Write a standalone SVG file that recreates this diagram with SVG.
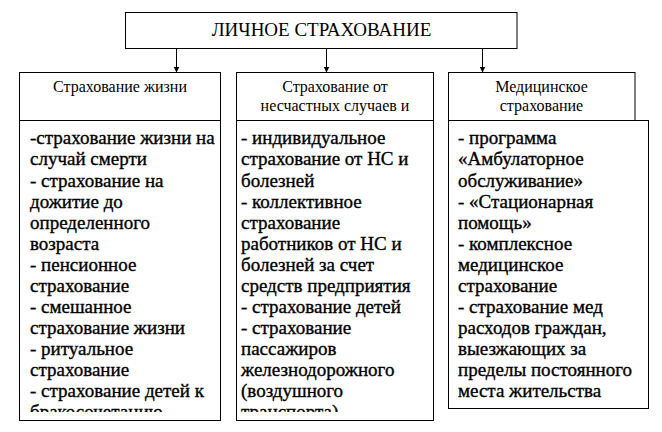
<svg xmlns="http://www.w3.org/2000/svg" width="662" height="432" viewBox="0 0 662 432">
  <defs>
    <style>
      .box { fill: #ffffff; stroke: #000000; stroke-width: 1; }
      .title { font-family: 'Liberation Serif', 'DejaVu Serif', serif; font-size: 19px; fill: #000; text-anchor: middle; }
      .head { font-family: 'Liberation Serif', 'DejaVu Serif', serif; font-size: 16px; fill: #000; text-anchor: middle; }
      .body { font-family: 'Liberation Serif', 'DejaVu Serif', serif; font-size: 19px; fill: #000; stroke: #000; stroke-width: 0.35; }
      .conn { stroke: #000; stroke-width: 1; fill: none; }
    </style>
    <marker id="arrow" viewBox="0 0 6 6" refX="6" refY="3" markerWidth="6" markerHeight="6" markerUnits="userSpaceOnUse" orient="auto">
      <path d="M0,0 L6,3 L0,6 Z" fill="#000"/>
    </marker>
    <clipPath id="clipLeft"><rect x="20" y="121" width="200" height="291"/></clipPath>
    <clipPath id="clipMid"><rect x="237" y="121" width="196" height="291"/></clipPath>
  </defs>
  <rect x="0" y="0" width="662" height="432" fill="#ffffff"/>

  <g id="root">
    <rect class="box" x="125.5" y="12.5" width="391.5" height="36"/>
    <text class="title" x="321.5" y="35.5">ЛИЧНОЕ СТРАХОВАНИЕ</text>
  </g>

  <g id="connectors">
    <line class="conn" x1="176.5" y1="48.5" x2="176.5" y2="72.5" marker-end="url(#arrow)"/>
    <line class="conn" x1="326.5" y1="48.5" x2="326.5" y2="72.5" marker-end="url(#arrow)"/>
    <line class="conn" x1="482.5" y1="48.5" x2="482.5" y2="72.5" marker-end="url(#arrow)"/>
  </g>

  <g id="life">
    <rect class="box" x="19.5" y="72.5" width="201" height="48"/>
    <text class="head" x="120" y="92">Страхование жизни</text>
    <rect class="box" x="19.5" y="120.5" width="201" height="300"/>
    <text class="body" clip-path="url(#clipLeft)">
      <tspan x="30" y="144.3">-страхование жизни на</tspan>
      <tspan x="30" y="165.4">случай смерти</tspan>
      <tspan x="30" y="186.5">- страхование на</tspan>
      <tspan x="30" y="207.5">дожитие до</tspan>
      <tspan x="30" y="228.6">определенного</tspan>
      <tspan x="30" y="249.7">возраста</tspan>
      <tspan x="30" y="270.8">- пенсионное</tspan>
      <tspan x="30" y="291.9">страхование</tspan>
      <tspan x="30" y="313">- смешанное</tspan>
      <tspan x="30" y="334">страхование жизни</tspan>
      <tspan x="30" y="355.3">- ритуальное</tspan>
      <tspan x="30" y="376.4">страхование</tspan>
      <tspan x="30" y="397.4">- страхование детей к</tspan>
      <tspan x="30" y="418.4">бракосочетанию</tspan>
    </text>
  </g>

  <g id="accident">
    <rect class="box" x="236.5" y="72.5" width="197" height="48"/>
    <text class="head" x="335" y="92">Страхование от</text>
    <text class="head" x="335" y="110.5">несчастных случаев и</text>
    <rect class="box" x="236.5" y="120.5" width="197" height="300"/>
    <text class="body" clip-path="url(#clipMid)">
      <tspan x="241" y="144.3">- индивидуальное</tspan>
      <tspan x="241" y="165.4">страхование от НС и</tspan>
      <tspan x="241" y="186.5">болезней</tspan>
      <tspan x="241" y="207.5">- коллективное</tspan>
      <tspan x="241" y="228.6">страхование</tspan>
      <tspan x="241" y="249.7">работников от НС и</tspan>
      <tspan x="241" y="270.8">болезней за счет</tspan>
      <tspan x="241" y="291.9">средств предприятия</tspan>
      <tspan x="241" y="313">- страхование детей</tspan>
      <tspan x="241" y="334">- страхование</tspan>
      <tspan x="241" y="355.3">пассажиров</tspan>
      <tspan x="241" y="376.4">железнодорожного</tspan>
      <tspan x="241" y="397.4">(воздушного</tspan>
      <tspan x="241" y="418.4">транспорта)</tspan>
    </text>
  </g>

  <g id="medical">
    <rect class="box" x="448.5" y="72.5" width="186.5" height="48"/>
    <text class="head" x="541.5" y="92">Медицинское</text>
    <text class="head" x="541.5" y="110.5">страхование</text>
    <rect class="box" x="448.5" y="120.5" width="200" height="288"/>
    <text class="body">
      <tspan x="458" y="144.3">- программа</tspan>
      <tspan x="458" y="165.4">«Амбулаторное</tspan>
      <tspan x="458" y="186.5">обслуживание»</tspan>
      <tspan x="458" y="207.5">- «Стационарная</tspan>
      <tspan x="458" y="228.6">помощь»</tspan>
      <tspan x="458" y="249.7">- комплексное</tspan>
      <tspan x="458" y="270.8">медицинское</tspan>
      <tspan x="458" y="291.9">страхование</tspan>
      <tspan x="458" y="313">- страхование мед</tspan>
      <tspan x="458" y="334">расходов граждан,</tspan>
      <tspan x="458" y="355.3">выезжающих за</tspan>
      <tspan x="458" y="376.4">пределы постоянного</tspan>
      <tspan x="458" y="397.4">места жительства</tspan>
    </text>
  </g>
</svg>
